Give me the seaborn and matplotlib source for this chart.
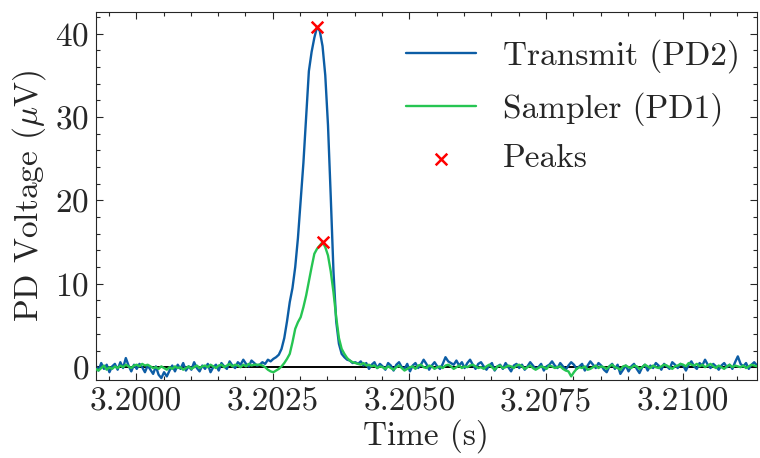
import numpy as np
import pandas as pd
import matplotlib
matplotlib.use("Agg")
import matplotlib.pyplot as plt
import seaborn as sns
from matplotlib.ticker import MultipleLocator, FormatStrFormatter

# ---- data ----
T0 = 3.19926      # first sample time (s)
DT = 0.00005      # sample spacing (s)

transmit_pd2 = [
    0.2, -0.4, 0.5, -0.2, 0.3, -0.6, 0.1, 0.4, -0.3, 0.6,
    -0.1, 1.1, 0.2, -0.5, 0.3, -0.2, 0.4, 0.0, -0.6, 0.2,
    -0.3, -0.8, 0.1, -0.9, -1.3, -0.6, -1.1, -0.4, 0.2, -0.5,
    0.3, -0.2, 0.5, -0.4, 0.1, -0.3, 0.6, -0.1, -0.5, 0.2,
    -0.2, 0.4, -0.6, 0.0, 0.3, -0.4, 0.5, 0.1, -0.2, 0.7,
    0.2, -0.1, 0.6, 0.3, 0.9, 0.4, 0.1, 0.8, 0.5, 0.2,
    0.3, 0.6, 0.4, 0.9, 0.7, 1.0, 1.2, 1.5, 2.2, 3.5,
    5.5, 7.8, 9.5, 12.0, 15.5, 20.0, 24.5, 30.0, 35.5, 37.8,
    39.5, 40.8, 40.3, 38.5, 35.0, 29.0, 20.5, 11.5, 5.5, 2.8,
    1.6, 1.2, 0.9, 0.8, 0.5, 0.6,
    0.4, 0.7, 0.2, 0.5, -0.2, 0.3, 0.6, -0.1, 0.4, 0.1,
    -0.3, 0.5, 0.2, -0.4, 0.3, 0.6, 0.0, -0.2, 0.4, -0.5,
    0.2, 0.5, -0.1, 0.3, 0.9, 0.4, -0.3, 0.2, 0.6, 0.1,
    -0.2, 0.4, 1.2, 0.7, 0.5, 0.3, 0.8, 0.2, 0.6, -0.1,
    0.5, 0.9, 0.3, -0.2, 0.4, 0.6, 0.1, -0.3, 0.2, 0.5,
    -0.4, 0.1, 0.3, -0.2, 0.5, 0.0, -0.5, 0.2, 0.4, -0.1,
    0.3, -0.3, 0.1, 0.6, 0.2, -0.2, 0.0, 0.4, -0.4, 0.1,
    0.3, 0.7, 0.2, -0.1, 0.5, 0.1, -0.3, 0.2, 0.6, 0.3,
    -0.2, 0.1, 0.4, -0.4, 0.2, 0.7, 0.3, -0.1, 0.5, 0.2,
    -0.3, -0.6, 0.1, 0.4, -0.2, 0.3, -0.8, -0.3, 0.2, -0.5,
    0.1, 0.4, -0.2, -0.7, 0.0, 0.3, -0.4, 0.2, -0.1, 0.5,
    0.2, -0.3, 0.4, 0.1, -0.2, 0.6, 0.3, -0.1, 0.4, 0.2,
    -0.4, 0.3, 0.7, 0.1, -0.2, 0.5, 0.2, 0.9, 0.3, -0.1,
    0.4, 0.1, -0.3, 0.2, 0.5, 0.0, 0.3, -0.2, 0.6, 1.3,
    0.4, 0.1, 0.5, -0.2, 0.3, 0.6, 0.2,
]

sampler_pd1 = [
    -0.2, -0.4, -0.1, 0.2, -0.3, 0.0, -0.2, 0.1, -0.1, 0.2,
    0.0, 0.3, 0.1, -0.1, 0.2, 0.3, 0.1, 0.4, 0.2, 0.3,
    0.1, -0.1, 0.0, -0.2, 0.1, -0.1, -0.3, 0.0, -0.2, 0.1,
    -0.1, 0.0, -0.3, -0.1, 0.1, -0.2, 0.0, 0.2, -0.1, 0.1,
    0.2, 0.0, 0.3, 0.1, -0.1, 0.2, 0.3, 0.0, 0.2, 0.4,
    0.1, 0.3, 0.2, 0.0, 0.3, 0.1, 0.4, 0.2, 0.3, 0.3,
    0.3, 0.2, 0.0, -0.3, -0.5, -0.6, -0.4, -0.2, 0.1, 0.5,
    1.0, 1.6, 3.0, 4.6, 5.4, 6.0, 7.2, 8.6, 10.3, 12.0,
    13.6, 14.2, 14.6, 15.0, 14.4, 13.4, 11.5, 9.0, 6.0, 3.5,
    2.2, 1.6, 1.1, 0.8, 0.6, 0.5,
    0.4, 0.3, 0.5, 0.2, 0.3, 0.1, 0.2, -0.1, 0.1, 0.0,
    -0.2, 0.1, -0.1, -0.3, 0.0, 0.2, -0.1, -0.4, -0.2, 0.0,
    0.1, -0.2, 0.2, 0.3, 0.0, -0.1, 0.2, 0.1, -0.2, 0.0,
    0.1, -0.1, 0.2, 0.3, 0.1, -0.2, 0.0, 0.2, -0.1, 0.1,
    0.0, 0.2, 0.3, 0.1, -0.1, 0.0, -0.2, 0.1, 0.3, 0.0,
    -0.3, 0.1, 0.2, -0.1, 0.0, 0.2, 0.1, -0.1, 0.2, 0.3,
    0.1, -0.2, 0.0, 0.2, -0.1, -0.3, -0.1, 0.1, 0.0, -0.2,
    0.2, 0.1, -0.1, 0.0, 0.1, -0.2, -0.4, -0.5, -1.1, -0.6,
    -0.2, 0.0, -0.1, 0.1, -0.3, -0.2, 0.0, 0.2, -0.1, 0.1,
    0.0, -0.2, 0.1, 0.3, 0.0, -0.1, -0.3, 0.1, 0.2, 0.0,
    -0.1, 0.2, 0.1, -0.2, 0.0, 0.3, 0.1, -0.1, 0.2, 0.0,
    -0.1, 0.1, 0.3, 0.2, 0.0, -0.2, 0.1, 0.2, 0.4, 0.3,
    0.1, 0.5, 0.3, 0.2, 0.4, 0.1, 0.3, 0.0, 0.2, 0.4,
    0.1, -0.1, 0.2, 0.0, -0.2, 0.1, 0.3, 0.0, 0.2, 0.1,
    0.0, 0.2, -0.1, 0.1, 0.3, 0.2, 0.1,
]

series_labels = ["Transmit (PD2)", "Sampler (PD1)"]
peaks_label = "Peaks"
x_label = "Time (s)"
y_label = r"PD Voltage ($\mu$V)"

# ---- style ----
FS = 24
sns.set_style("ticks")
plt.rcParams.update({
    "font.family": ["serif"],
    "font.serif": ["cmr10", "DejaVu Serif"],
    "mathtext.fontset": "cm",
    "axes.formatter.use_mathtext": True,
    "axes.unicode_minus": False,
    "font.size": FS,
    "axes.linewidth": 0.8,
})

time = T0 + DT * np.arange(len(transmit_pd2))
df = pd.DataFrame({"t": time, "pd2": transmit_pd2, "pd1": sampler_pd1})

fig = plt.figure(figsize=(7.6, 4.58), dpi=100)
ax = fig.add_axes([0.126, 0.170, 0.870, 0.804])

ax.axhline(0, color="black", lw=1.4, zorder=1)
sns.lineplot(data=df, x="t", y="pd2", ax=ax, color="#0C5DA5", lw=1.7,
             label=series_labels[0], estimator=None, zorder=2)
sns.lineplot(data=df, x="t", y="pd1", ax=ax, color="#26C552", lw=1.7,
             label=series_labels[1], estimator=None, zorder=3)

i2 = int(np.argmax(df["pd2"].values))
i1 = int(np.argmax(df["pd1"].values))
pk = pd.DataFrame({"t": [time[i2], time[i1]],
                   "v": [transmit_pd2[i2], sampler_pd1[i1]]})
sns.scatterplot(data=pk, x="t", y="v", ax=ax, marker="x", color="red",
                s=70, linewidth=1.8, label=peaks_label, zorder=4)

ax.set_xlim(T0, T0 + DT * (len(transmit_pd2) - 1))
ax.set_ylim(-1.55, 42.6)
ax.xaxis.set_major_locator(MultipleLocator(0.0025))
ax.xaxis.set_minor_locator(MultipleLocator(0.0005))
ax.xaxis.set_major_formatter(FormatStrFormatter("%.4f"))
ax.yaxis.set_major_locator(MultipleLocator(10))
ax.yaxis.set_minor_locator(MultipleLocator(2))
ax.tick_params(which="both", direction="in", top=True, right=True,
               labelsize=FS, width=0.8)
ax.tick_params(which="major", length=5, pad=5)
ax.tick_params(which="minor", length=2.8)

ax.set_xlabel(x_label, fontsize=FS, labelpad=2)
ax.set_ylabel(y_label, fontsize=FS, labelpad=5)

for s in ax.spines.values():
    s.set_visible(True)

ax.legend(loc="upper right", bbox_to_anchor=(1.0, 0.972), frameon=False,
          fontsize=FS, handlelength=2.1, handletextpad=0.8,
          labelspacing=0.55, borderaxespad=0.12)

fig.savefig("out.png", dpi=100)
